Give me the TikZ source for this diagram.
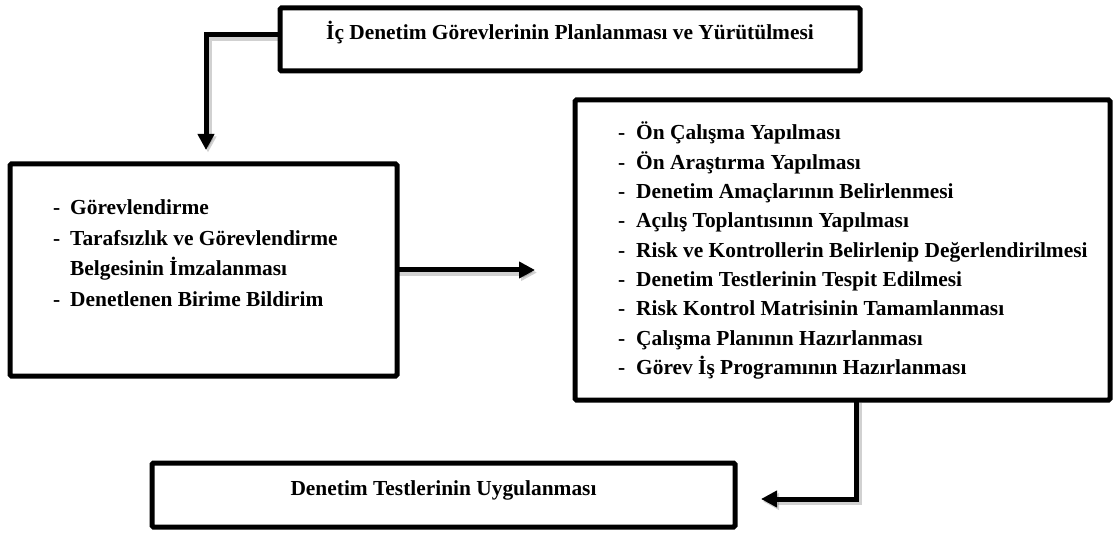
\documentclass[tikz,border=0pt]{standalone}
\usepackage{fontspec}
\setmainfont{Liberation Serif}
\usetikzlibrary{arrows.meta}
\begin{document}
\begin{tikzpicture}[x=1pt,y=-1pt,
  box/.style={draw=black, line width=5pt, rounded corners=1.5pt, fill=white,
    inner sep=0pt, outer sep=0pt},
  conn/.style={line width=5pt, -{Triangle[length=16pt,width=16pt]}},
  connshade/.style={conn, draw=black, opacity=0.18, line width=7pt,
    transform canvas={shift={(2pt,-2.5pt)}}},
  lbl/.style={font=\fontsize{21.4}{25}\selectfont\bfseries, inner sep=0pt},
  item/.style={lbl, anchor=base west},
]
\useasboundingbox[fill=white] (0,0) rectangle (1113,534);

% boxes
\node[box, minimum width=580pt, minimum height=63pt]  (top)   at (570,39.5)  {};
\node[box, minimum width=387pt, minimum height=212pt] (left)  at (203.5,270) {};
\node[box, minimum width=535pt, minimum height=300pt] (right) at (842.5,250) {};
\node[box, minimum width=583pt, minimum height=64pt]  (bot)   at (443.5,495) {};

% titles
\node[lbl, anchor=base] (ttl) at (570,40) {İç Denetim Görevlerinin Planlanması ve Yürütülmesi};
\node[lbl, anchor=base] (btl) at (443.5,495) {Denetim Testlerinin Uygulanması};

% dashed lists
\node[item] (llist) at (53,215) {\fontsize{21.4}{30.5}\selectfont
  \begin{tabular}[t]{@{}l@{}}
  \makebox[17pt][l]{-}Görevlendirme\\
  \makebox[17pt][l]{-}Tarafsızlık ve Görevlendirme\\
  \hspace*{17pt}Belgesinin İmzalanması\\
  \makebox[17pt][l]{-}Denetlenen Birime Bildirim
  \end{tabular}};

\node[item] (rlist) at (618,140) {\fontsize{21.4}{29.3}\selectfont
  \begin{tabular}[t]{@{}l@{}}
  \makebox[18pt][l]{-}Ön Çalışma Yapılması\\
  \makebox[18pt][l]{-}Ön Araştırma Yapılması\\
  \makebox[18pt][l]{-}Denetim Amaçlarının Belirlenmesi\\
  \makebox[18pt][l]{-}Açılış Toplantısının Yapılması\\
  \makebox[18pt][l]{-}Risk ve Kontrollerin Belirlenip Değerlendirilmesi\\
  \makebox[18pt][l]{-}Denetim Testlerinin Tespit Edilmesi\\
  \makebox[18pt][l]{-}Risk Kontrol Matrisinin Tamamlanması\\
  \makebox[18pt][l]{-}Çalışma Planının Hazırlanması\\
  \makebox[18pt][l]{-}Görev İş Programının Hazırlanması
  \end{tabular}};

% connector end points
\coordinate (a1) at (206,150);
\coordinate (a2) at (535,270);
\coordinate (s3) at (856,400);
\coordinate (a3) at (761,499);

% soft shadows under the connectors
\draw[connshade] ([yshift=4.5pt]top.west) -| (a1);
\draw[connshade] (left.east) -- (a2);
\draw[connshade] (s3) |- (a3);

% connectors
\draw[conn] ([yshift=4.5pt]top.west) -| (a1);
\draw[conn] (left.east) -- (a2);
\draw[conn] (s3) |- (a3);
\end{tikzpicture}
\end{document}
